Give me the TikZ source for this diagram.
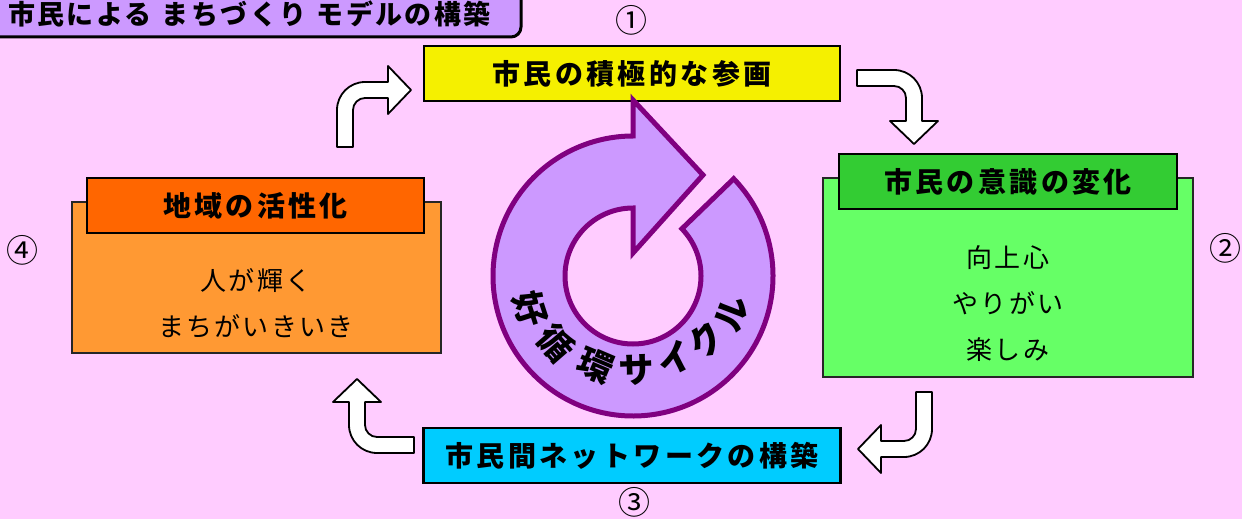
\documentclass[tikz,border=0pt]{standalone}
\usepackage{fontspec}
\newfontfamily\jp{Noto Sans CJK JP}
\newfontfamily\jpsp{Noto Sans CJK JP}[LetterSpace=12]
\newfontfamily\jptitle{Noto Sans CJK JP}[LetterSpace=9]
\newfontfamily\jpbody{Noto Sans CJK JP}[LetterSpace=8]
\usepackage{tikz}

\definecolor{bgpink}{HTML}{FFCCFF}
\definecolor{lilac}{HTML}{CC99FF}
\definecolor{ringline}{HTML}{800080}
\definecolor{partyellow}{HTML}{F5F000}
\definecolor{headgreen}{HTML}{33CC33}
\definecolor{bodygreen}{HTML}{66FF66}
\definecolor{headorange}{HTML}{FF6600}
\definecolor{bodyorange}{HTML}{FF9933}
\definecolor{netcyan}{HTML}{00CCFF}

\tikzset{
  titlebox/.style={draw=black, line width=3pt, fill=lilac, rounded corners=10pt},
  titletext/.style={inner sep=0pt, font=\jptitle\bfseries\fontsize{27}{29}\selectfont},
  headbox/.style={draw=black, line width=2.2pt, minimum height=55pt, inner sep=0pt,
    font=\jpsp\bfseries\fontsize{28}{30}\selectfont},
  bodybox/.style={draw=black!85, line width=1.8pt, inner sep=0pt},
  bodytext/.style={align=center, inner sep=0pt, font=\jpbody\fontsize{26}{46}\selectfont},
  numtext/.style={inner sep=0pt, font=\jp\fontsize{32}{34}\selectfont},
  ringtext/.style={inner sep=0pt, font=\jp\bfseries\fontsize{35}{37}\selectfont},
  ring/.style={draw=ringline, line width=5pt, fill=lilac, line join=miter},
  turnarrow/.style={draw=black, fill=white, line width=1.8pt, line join=round},
  bendarr/.pic={
    \draw[turnarrow] (-28,-37) -- (-28,0) arc[start angle=180, end angle=90, radius=28pt]
      -- (23,28) -- (23,44) -- (46,20) -- (23,-4) -- (23,12) -- (0,12)
      arc[start angle=90, end angle=180, radius=12pt] -- (-12,-37) -- cycle;
  }
}

\begin{document}
\begin{tikzpicture}[x=1pt, y=1pt]
    \useasboundingbox[fill=bgpink] (0,0) rectangle (1242,-519);

    \draw[titlebox] (-20,20) rectangle (521,-37);
    \node[titletext, anchor=east] (title) at (491,-14)
        {市民による\hspace{10pt}まちづくり\hspace{10pt}モデルの構築};

    \node[headbox, fill=partyellow, minimum width=416pt] (partic) at (632,-73.5) {市民の積極的な参画};
    \node[headbox, fill=netcyan, minimum width=417pt] (network) at (632,-455.5) {市民間ネットワークの構築};

    \node[bodybox, fill=bodygreen, minimum width=370pt, minimum height=199pt] (awarebox) at (1008,-277.5) {};
    \node[headbox, fill=headgreen, minimum width=338pt] (awarehead) at (1008,-181.5) {市民の意識の変化};
    \node[bodytext] (awaretext) at (1008,-304) {向上心\\やりがい\\楽しみ};

    \node[bodybox, fill=bodyorange, minimum width=369pt, minimum height=151pt] (activbox) at (256.5,-277.5) {};
    \node[headbox, fill=headorange, minimum width=337pt] (activhead) at (255.5,-205.5) {地域の活性化};
    \node[bodytext] (activtext) at (256,-303) {人が輝く\\まちがいきいき};

    \node[numtext] (num1) at (631,-20) {①};
    \node[numtext] (num2) at (1225,-248) {②};
    \node[numtext] (num3) at (634,-502) {③};
    \node[numtext] (num4) at (22,-250) {④};

    \begin{scope}[shift={(633,-276)}]
        \draw[ring] (44:140) arc[start angle=44, end angle=-270, radius=140pt]
            -- (0,176) -- (70,101) -- (0,23) -- (0,68)
            arc[start angle=90, end angle=404, radius=68pt] -- cycle;
        \foreach \a/\r/\c [count=\i] in {198/108/好, 221/102/循, 247/97/環, 272/94/サ,
                                         297/93/イ, 319/97/ク, 339/106/ル}
            \node[ringtext, rotate=\a+90] (ch\i) at (\a:\r) {\c};
    \end{scope}

    \pic[rotate=0] at (365,-110) {bendarr};
    \pic[rotate=-90] at (894,-98) {bendarr};
    \pic[rotate=180] at (904,-429) {bendarr};
    \pic[rotate=90] at (377,-425) {bendarr};
\end{tikzpicture}
\end{document}
